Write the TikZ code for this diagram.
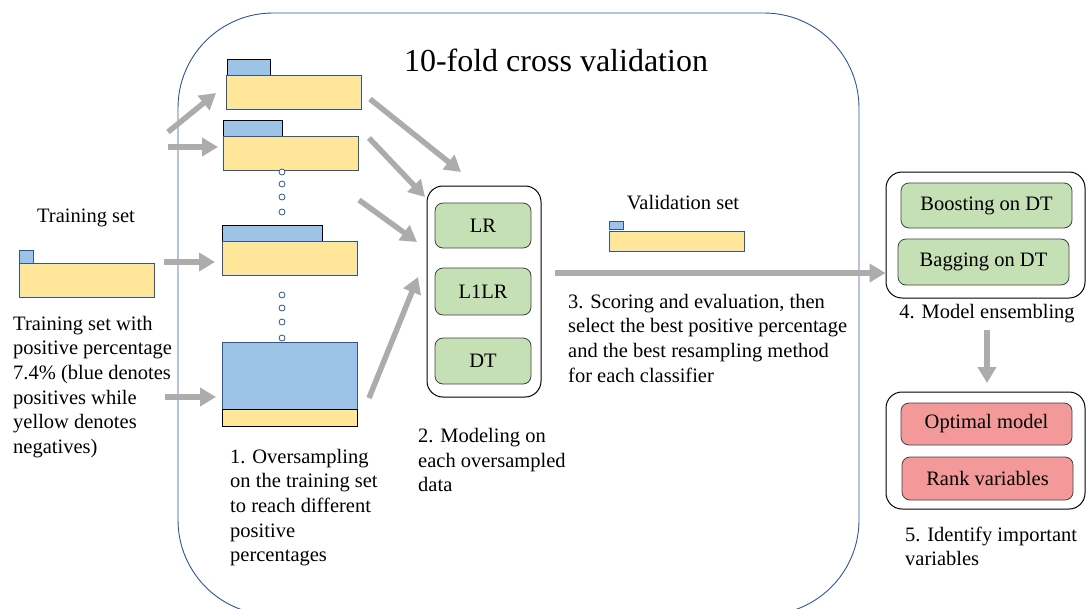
\documentclass[tikz,border=0pt]{standalone}
\usepackage{fontspec}
\newfontfamily\rmf{Liberation Serif}
\usetikzlibrary{arrows.meta,calc}
\definecolor{bfill}{HTML}{9DC3E6}
\definecolor{yfill}{HTML}{FFE699}
\definecolor{gfill}{HTML}{C5E0B4}
\definecolor{rfill}{HTML}{F4999A}
\definecolor{dblue}{HTML}{2F5597}
\definecolor{agray}{HTML}{AEABAB}
\begin{document}
\begin{tikzpicture}[x=1pt,y=-1pt,
  txt/.style={font=\rmf\fontsize{20.5}{24.6}\selectfont},
  ybar/.style={draw=dblue, fill=yfill, line width=0.9pt, inner sep=0, outer sep=0, anchor=north west},
  btab/.style={draw=black, fill=bfill, line width=0.9pt, inner sep=0, outer sep=0, anchor=north west},
  bsmall/.style={draw=dblue, fill=bfill, line width=0.9pt, inner sep=0, outer sep=0, anchor=north west},
  dot/.style={circle, draw=dblue, fill=white, line width=0.8pt, minimum size=6pt, inner sep=0},
  arr/.style={draw=agray, line width=5.5pt, -{Triangle[length=16pt,width=18pt]}},
  lbl/.style={txt, align=left, inner sep=0, anchor=north west},
  ctext/.style={txt, inner sep=0, anchor=base},
  outerbox/.style={draw=black, line width=1pt, rounded corners=16pt, inner sep=0},
  gbox/.style={txt, draw=black!75, fill=gfill, line width=0.8pt, rounded corners=8pt, inner sep=0},
  rbox/.style={txt, draw=black!75, fill=rfill, line width=0.8pt, rounded corners=8pt, inner sep=0}
]
\useasboundingbox (0,0) rectangle (1086,608);
% big cross-validation frame
\draw[dblue, line width=0.9pt, rounded corners=95pt] (178,13) rectangle (859,615);
\node[font=\rmf\fontsize{32}{38}\selectfont, inner sep=0, anchor=base] (title) at (556,71) {10-fold cross validation};

% training set
\node[ctext] (trainlbl) at (86,222) {Training set};
\node[bsmall, minimum width=14pt, minimum height=13pt] (ttab) at (19,250) {};
\node[ybar, minimum width=135pt, minimum height=34pt] (tbar) at (19,263) {};
\node[lbl] (traintxt) at (13,312.8) {\strut Training set with\\positive percentage\\7.4\% (blue denotes\\positives while\\yellow denotes\\negatives)};

% oversampled bars
\node[btab, minimum width=43pt, minimum height=16pt] (tab1) at (227,59) {};
\node[ybar, minimum width=135pt, minimum height=34pt] (bar1) at (226,75) {};
\node[btab, minimum width=59pt, minimum height=16pt] (tab2) at (223,120) {};
\node[ybar, minimum width=135pt, minimum height=34pt] (bar2) at (223,136) {};
\node[dot] (d1) at (282,172) {};
\node[dot] (d2) at (282,184) {};
\node[dot] (d3) at (282,197) {};
\node[dot] (d4) at (282,212) {};
\node[btab, minimum width=100pt, minimum height=16pt] (tab3) at (222,225) {};
\node[ybar, minimum width=135pt, minimum height=34pt] (bar3) at (222,241) {};
\node[dot] (d5) at (282,295) {};
\node[dot] (d6) at (282,308) {};
\node[dot] (d7) at (282,322) {};
\node[dot] (d8) at (282,338) {};
\node[bsmall, minimum width=135pt, minimum height=67pt] (tab4) at (222,342) {};
\node[ybar, draw=black, minimum width=135pt, minimum height=17pt] (bar4) at (222,409) {};
\node[lbl] (step1) at (230,445.8) {\strut 1. Oversampling\\on the training set\\to reach different\\positive\\percentages};

% models
\node[outerbox, minimum width=114pt, minimum height=211pt] (models) at (484,291.5) {};
\node[gbox, minimum width=96pt, minimum height=45pt] (lr) at (483,225.5) {LR};
\node[gbox, minimum width=96pt, minimum height=47pt] (l1lr) at (483,291.5) {L1LR};
\node[gbox, minimum width=96pt, minimum height=46pt] (dt) at (483,361) {DT};
\node[lbl] (step2) at (418,425) {\strut 2. Modeling on\\each oversampled\\data};

% validation set
\node[ctext] (vallbl) at (683,209) {Validation set};
\node[bsmall, minimum width=14pt, minimum height=8pt] (vtab) at (609,221) {};
\node[ybar, minimum width=135pt, minimum height=20pt] (vbar) at (609,231) {};
\node[lbl] (step3) at (568,290.8) {\strut 3. Scoring and evaluation, then\\select the best positive percentage\\and the best resampling method\\for each classifier};

% ensembling
\node[outerbox, minimum width=199pt, minimum height=126pt] (ens) at (985.5,235) {};
\node[gbox, minimum width=171pt, minimum height=45pt] (boost) at (986.5,205.5) {Boosting on DT};
\node[gbox, minimum width=171pt, minimum height=46pt] (bag) at (983.5,262) {Bagging on DT};
\node[ctext] (step4) at (987,318) {4. Model ensembling};

% important variables
\node[outerbox, minimum width=199pt, minimum height=117pt] (imp) at (985.5,450.5) {};
\node[rbox, minimum width=171pt, minimum height=42pt] (opt) at (986.5,424) {Optimal model};
\node[rbox, minimum width=171pt, minimum height=43pt] (rank) at (987.5,478.5) {Rank variables};
\node[lbl] (step5) at (905,523.8) {\strut 5. Identify important\\variables};

% arrow end points
\coordinate (a1s) at (168,132); \coordinate (a1e) at (216,93);
\coordinate (a2s) at (168,147); \coordinate (a2e) at (218,147);
\coordinate (a3s) at (164,262); \coordinate (a3e) at (215,262);
\coordinate (a4s) at (165,397); \coordinate (a4e) at (216,397);
\coordinate (b1s) at (370,99);  \coordinate (b1e) at (461,172);
\coordinate (b2s) at (369,138); \coordinate (b2e) at (425,197);
\coordinate (b3s) at (359,200); \coordinate (b3e) at (417,242);
\coordinate (b4s) at (369,398); \coordinate (b4e) at (418,277);
\coordinate (cs) at (555,273);
\coordinate (ds) at (987,330);  \coordinate (de) at (987,383);

\draw[arr] (a1s) -- (a1e);
\draw[arr] (a2s) -- (a2e);
\draw[arr] (a3s) -- (a3e);
\draw[arr] (a4s) -- (a4e);
\draw[arr] (b1s) -- (b1e);
\draw[arr] (b2s) -- (b2e);
\draw[arr] (b3s) -- (b3e);
\draw[arr] (b4s) -- (b4e);
\draw[arr] (cs) -- (cs -| ens.west);
\draw[arr] (ds) -- (de);
\end{tikzpicture}
\end{document}
